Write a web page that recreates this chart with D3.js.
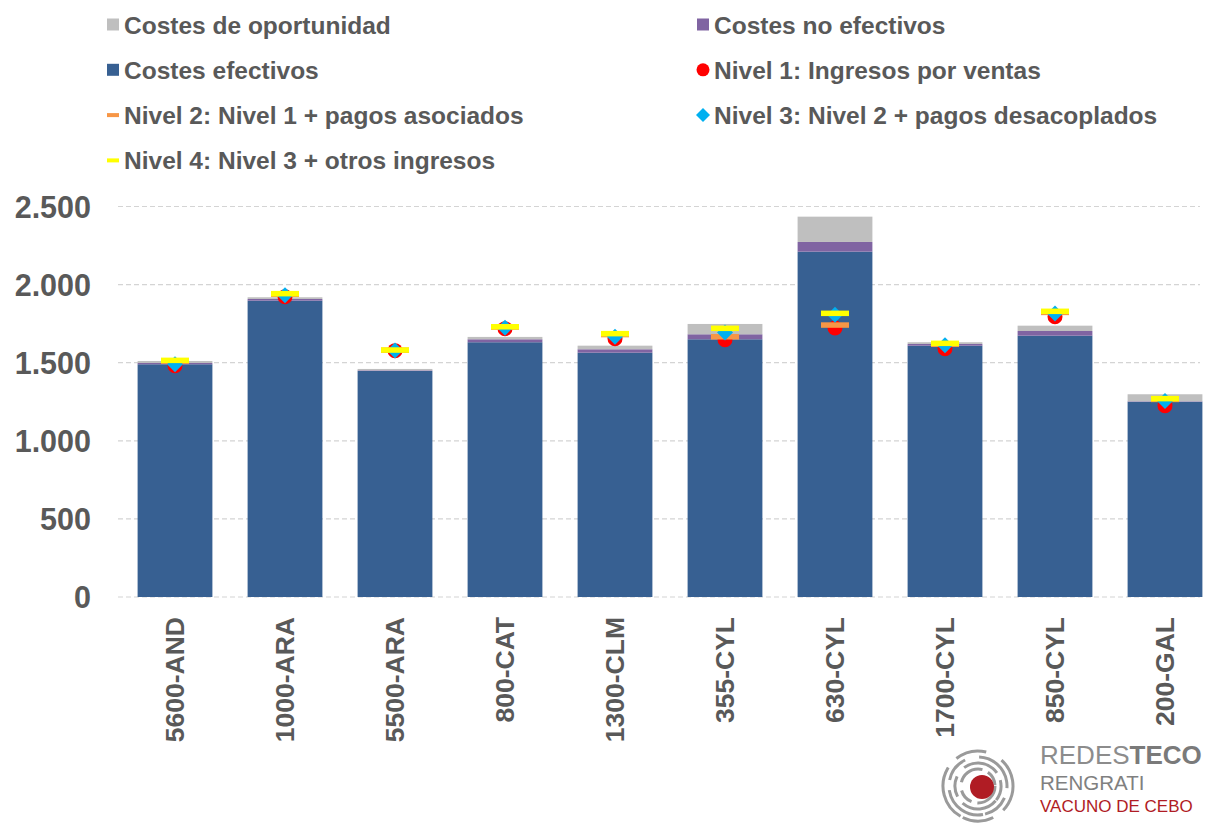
<!DOCTYPE html>
<html lang="es">
  <head>
    <meta charset="utf-8">
    <title>Costes e ingresos por explotación</title>
    <script src="https://d3js.org/d3.v7.min.js"></script>
    <style>
      body { margin: 0; background: #fff; }
      svg text { font-family: "Liberation Sans", Arial, sans-serif; fill: #595959; }
      .leyenda text { font-size: 24.5px; font-weight: bold; }
      .eje-y text { font-size: 30.5px; font-weight: bold; }
      .eje-x text { font-size: 26.5px; font-weight: bold; }
    </style>
  </head>
  <body>
    <div id="chart"></div>

    <script>
      // datos
      var categorias = ["5600-AND", "1000-ARA", "5500-ARA", "800-CAT", "1300-CLM",
                        "355-CYL", "630-CYL", "1700-CYL", "850-CYL", "200-GAL"];
      var costesEfectivos   = [1490, 1897, 1447, 1631, 1564, 1650, 2211, 1609, 1673, 1250];
      var costesNoEfectivos = [8, 11, 4, 19, 22, 32, 62, 11, 30, 3];
      var costesOportunidad = [13, 11, 9, 15, 23, 66, 162, 11, 34, 45];
      var nivel1 = [1481, 1923, 1577, 1718, 1654, 1647, 1722, 1590, 1794, 1225];
      var nivel2 = [1510, 1938, 1580, 1728, 1680, 1666, 1741, 1618, 1822, 1265];
      var nivel3 = [1490, 1932, 1578, 1724, 1666, 1693, 1807, 1612, 1815, 1255];
      var nivel4 = [1515, 1942, 1581, 1730, 1686, 1720, 1816, 1624, 1829, 1270];
      var ticksY = [0, 500, 1000, 1500, 2000, 2500];

      var colores = {
        efectivos: "#376092", noEfectivos: "#8064A2", oportunidad: "#BFBFBF",
        n1: "#FF0000", n2: "#F79646", n3: "#00B0F0", n4: "#FFFF00"
      };

      var larguraSVG = 1208, alturaSVG = 823;
      var svg = d3.select("#chart").append("svg")
                  .attr("width", larguraSVG).attr("height", alturaSVG);

      var x = d3.scaleBand().domain(categorias).range([120, 1220])
                .paddingInner(0.32).paddingOuter(0.16);
      var y = d3.scaleLinear().domain([0, 2500]).range([597, 206.5]);

      var es = d3.formatLocale({decimal: ",", thousands: ".", grouping: [3], currency: ["", " €"]});
      var fmt = es.format(",d");

      // rejilla
      svg.append("g").selectAll("line").data(ticksY).join("line")
        .attr("x1", 118).attr("x2", 1200)
        .attr("y1", d => y(d)).attr("y2", d => y(d))
        .attr("stroke", "#d4d4d4").attr("stroke-width", 1.2)
        .attr("stroke-dasharray", "5,3");

      svg.append("g").attr("class", "eje-y").selectAll("text").data(ticksY).join("text")
        .attr("x", 91).attr("y", d => y(d) + 11)
        .attr("text-anchor", "end")
        .text(d => fmt(d));

      // barras apiladas
      var datos = categorias.map((c, i) => ({
        cat: c,
        efectivos: costesEfectivos[i], noEfectivos: costesNoEfectivos[i], oportunidad: costesOportunidad[i],
        n1: nivel1[i], n2: nivel2[i], n3: nivel3[i], n4: nivel4[i]
      }));
      var pilas = d3.stack().keys(["efectivos", "noEfectivos", "oportunidad"])(datos);

      svg.append("g").selectAll("g").data(pilas).join("g")
        .attr("fill", s => colores[s.key])
        .selectAll("rect").data(s => s).join("rect")
          .attr("x", d => x(d.data.cat))
          .attr("width", x.bandwidth())
          .attr("y", d => y(d[1]))
          .attr("height", d => y(d[0]) - y(d[1]));

      // marcadores de ingresos
      var cx = d => x(d.cat) + x.bandwidth() / 2;
      var marcas = svg.append("g");
      marcas.selectAll("circle").data(datos).join("circle")
        .attr("cx", cx).attr("cy", d => y(d.n1)).attr("r", 7.5)
        .attr("fill", colores.n1);
      marcas.selectAll("rect.n2").data(datos).join("rect").attr("class", "n2")
        .attr("x", d => cx(d) - 14).attr("y", d => y(d.n2) - 2.75)
        .attr("width", 28).attr("height", 5.5).attr("fill", colores.n2);
      marcas.selectAll("path").data(datos).join("path")
        .attr("d", d => { var px = cx(d), py = y(d.n3);
          return "M" + px + "," + (py - 8) + "L" + (px + 8) + "," + py + "L" + px + "," + (py + 8) + "L" + (px - 8) + "," + py + "Z"; })
        .attr("fill", colores.n3);
      marcas.selectAll("rect.n4").data(datos).join("rect").attr("class", "n4")
        .attr("x", d => cx(d) - 14).attr("y", d => y(d.n4) - 2.75)
        .attr("width", 28).attr("height", 5.5).attr("fill", colores.n4);

      // etiquetas del eje x
      svg.append("g").attr("class", "eje-x").selectAll("text").data(categorias).join("text")
        .attr("transform", d => "translate(" + (x(d) + x.bandwidth() / 2 + 9) + ",617) rotate(-90)")
        .attr("text-anchor", "end")
        .text(d => d);

      // leyenda
      var leyenda = [
        {txt: "Costes de oportunidad", tipo: "cuadro", color: colores.oportunidad, col: 0, fila: 0},
        {txt: "Costes no efectivos", tipo: "cuadro", color: colores.noEfectivos, col: 1, fila: 0},
        {txt: "Costes efectivos", tipo: "cuadro", color: colores.efectivos, col: 0, fila: 1},
        {txt: "Nivel 1: Ingresos por ventas", tipo: "circulo", color: colores.n1, col: 1, fila: 1},
        {txt: "Nivel 2: Nivel 1 + pagos asociados", tipo: "raya", color: colores.n2, col: 0, fila: 2},
        {txt: "Nivel 3: Nivel 2 + pagos desacoplados", tipo: "rombo", color: colores.n3, col: 1, fila: 2},
        {txt: "Nivel 4: Nivel 3 + otros ingresos", tipo: "raya", color: colores.n4, col: 0, fila: 3}
      ];
      var colX = [113, 703];
      var it = svg.append("g").attr("class", "leyenda").selectAll("g").data(leyenda).join("g")
        .attr("transform", d => "translate(" + colX[d.col] + "," + (24.5 + d.fila * 45.3) + ")");
      it.filter(d => d.tipo === "cuadro").append("rect")
        .attr("x", -6).attr("y", -6).attr("width", 12).attr("height", 12).attr("fill", d => d.color);
      it.filter(d => d.tipo === "circulo").append("circle")
        .attr("r", 6.5).attr("fill", d => d.color);
      it.filter(d => d.tipo === "raya").append("rect")
        .attr("x", -6).attr("y", -2).attr("width", 12).attr("height", 4).attr("fill", d => d.color);
      it.filter(d => d.tipo === "rombo").append("path")
        .attr("d", "M0,-7L7,0L0,7L-7,0Z").attr("fill", d => d.color);
      it.append("text").attr("x", 11).attr("y", 9).text(d => d.txt);

      // logotipo
      var logo = svg.append("g");
      var radios = [17, 23, 29, 35];
      radios.forEach(function(r, i) {
        logo.append("circle").attr("cx", 978).attr("cy", 786).attr("r", r)
          .attr("fill", "none").attr("stroke", "#9a9a9a").attr("stroke-width", 3)
          .attr("stroke-dasharray", [r * 1.6, r * 0.35, r * 0.9, r * 0.5].join(","))
          .attr("transform", "rotate(" + (i * 40) + ",978,786)");
      });
      logo.append("circle").attr("cx", 982).attr("cy", 787).attr("r", 12).attr("fill", "#b01c24");
      var t1 = logo.append("text").attr("x", 1040).attr("y", 764)
        .style("font-size", "26px").style("fill", "#8c8c8c");
      t1.append("tspan").style("font-weight", "normal").text("REDES");
      t1.append("tspan").style("font-weight", "bold").style("fill", "#7a7a7a").text("TECO");
      logo.append("text").attr("x", 1040).attr("y", 790)
        .style("font-size", "20.5px").style("fill", "#808080").text("RENGRATI");
      logo.append("text").attr("x", 1040).attr("y", 812)
        .style("font-size", "17px").style("fill", "#b01c24").text("VACUNO DE CEBO");
    </script>
  </body>
</html>
